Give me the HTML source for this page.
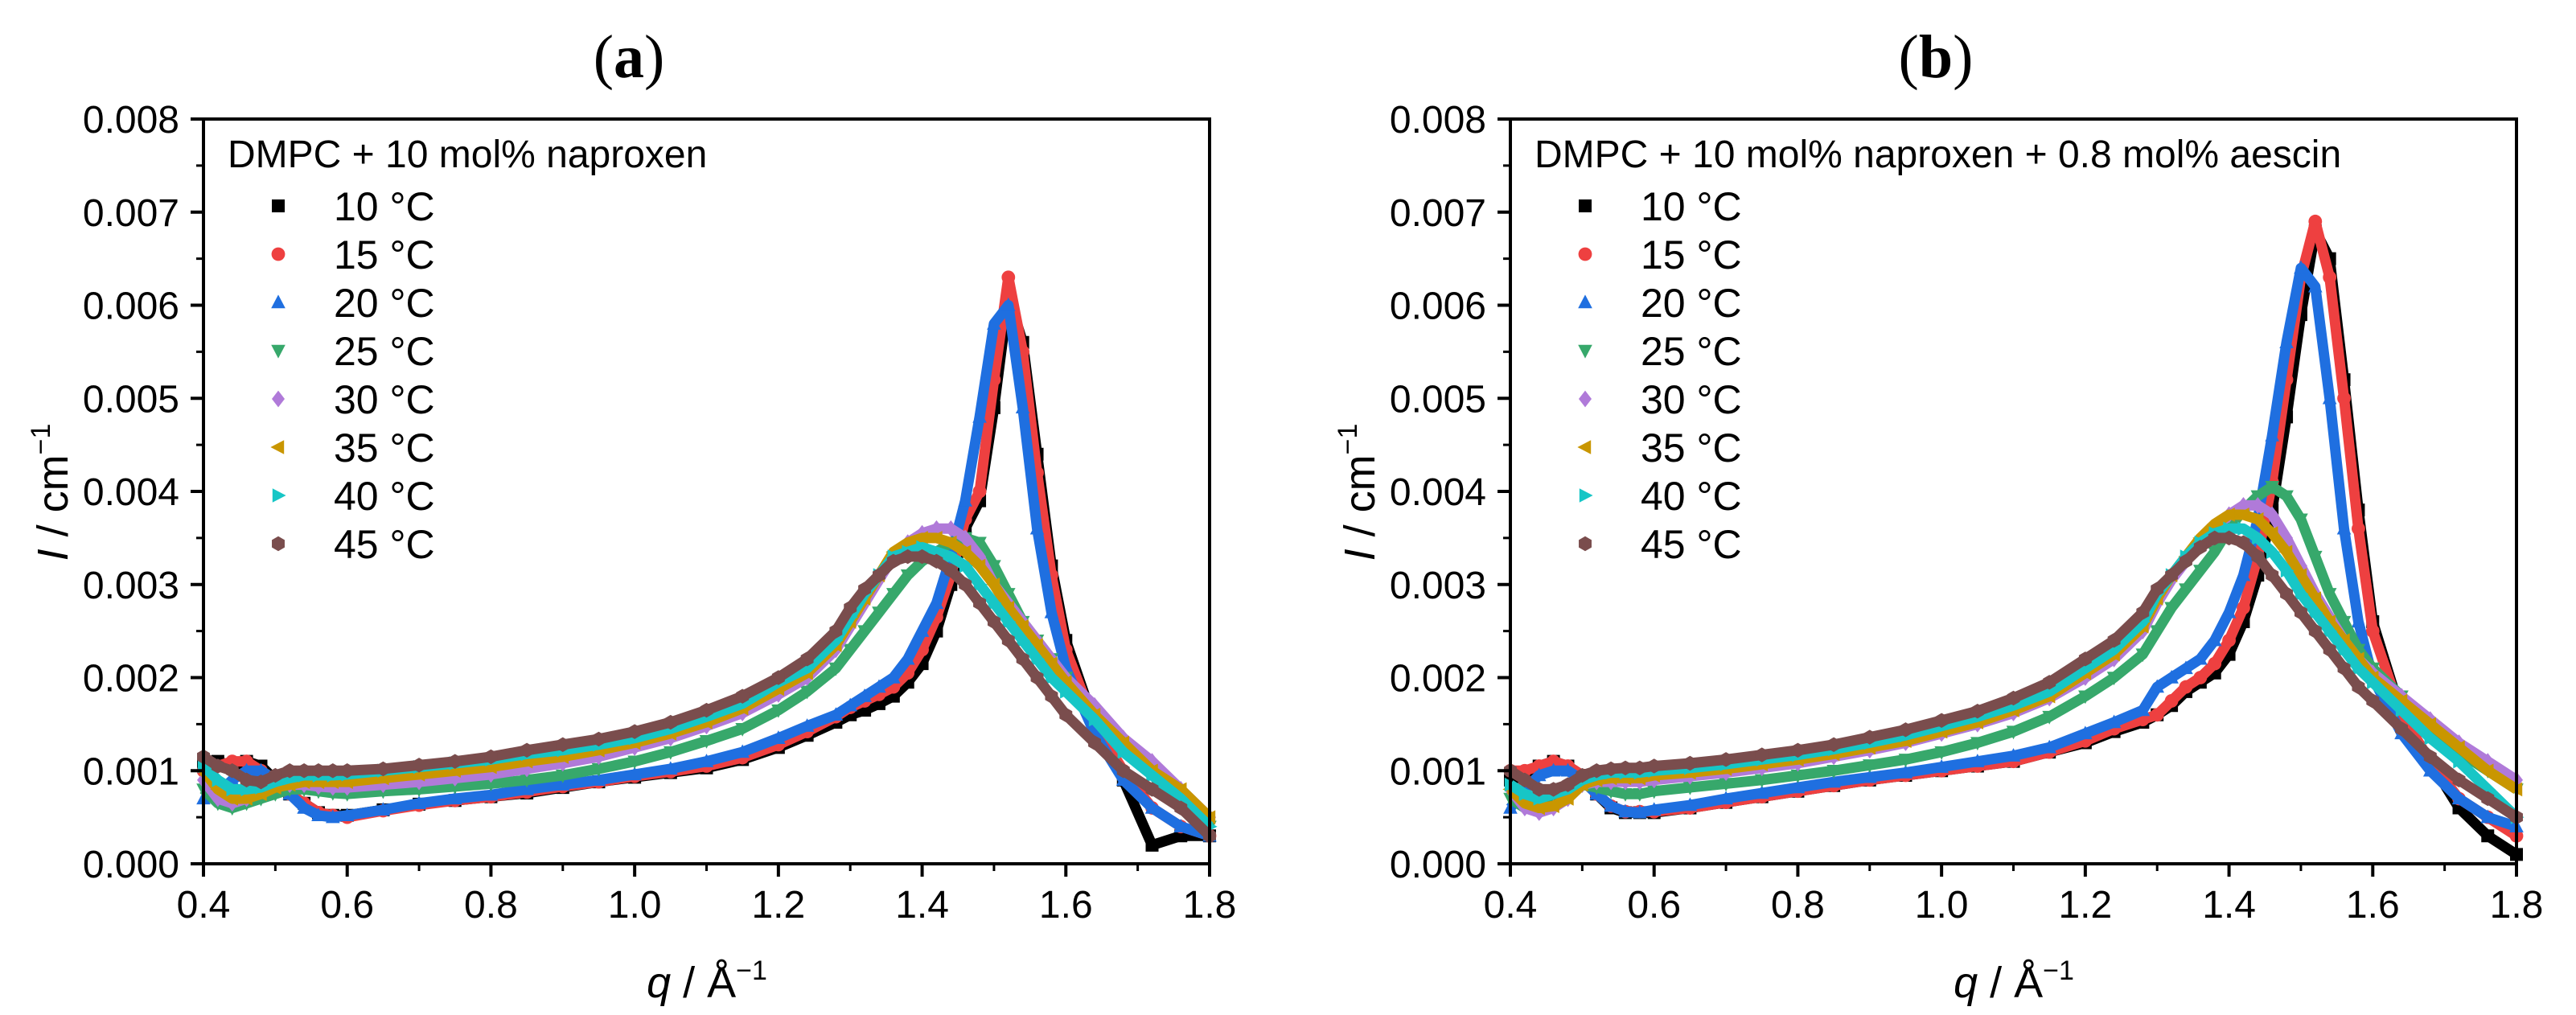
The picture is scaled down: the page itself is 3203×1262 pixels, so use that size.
<!DOCTYPE html>
<html><head><meta charset="utf-8"><style>
html,body{margin:0;padding:0;background:#fff}
svg{display:block}
text{font-family:"Liberation Sans",sans-serif;fill:#000}
</style></head><body>
<svg id="fig" width="3203" height="1262" viewBox="0 0 3203 1262" xmlns="http://www.w3.org/2000/svg"></svg>
<script>
const qValues=[0.40,0.42,0.44,0.46,0.48,0.50,0.52,0.54,0.56,0.58,0.60,0.65,0.70,0.75,0.80,0.85,0.90,0.95,1.00,1.05,1.10,1.15,1.20,1.24,1.28,1.30,1.32,1.34,1.36,1.38,1.40,1.42,1.44,1.46,1.48,1.50,1.52,1.54,1.56,1.58,1.60,1.64,1.68,1.72,1.76,1.80];
const seriesLabels=["10 °C","15 °C","20 °C","25 °C","30 °C","35 °C","40 °C","45 °C"];
const xTicks=[0.4,0.6,0.8,1.0,1.2,1.4,1.6,1.8];
const xTickLabels=["0.4","0.6","0.8","1.0","1.2","1.4","1.6","1.8"];
const yTicks=[0,0.001,0.002,0.003,0.004,0.005,0.006,0.007,0.008];
const yTickLabels=["0.000","0.001","0.002","0.003","0.004","0.005","0.006","0.007","0.008"];
// panel a (units 1e-3 cm^-1)
const a10=[1.05,1.1,1.05,1.1,1.05,0.9,0.75,0.65,0.55,0.52,0.52,0.58,0.64,0.68,0.72,0.76,0.82,0.88,0.93,0.98,1.03,1.12,1.25,1.38,1.52,1.6,1.65,1.72,1.8,1.95,2.15,2.5,3.0,3.6,3.9,4.9,6.1,5.6,4.4,3.2,2.4,1.5,0.9,0.2,0.3,0.3];
const a15=[1.0,1.05,1.1,1.1,1.0,0.9,0.75,0.65,0.55,0.52,0.5,0.57,0.63,0.68,0.72,0.77,0.83,0.88,0.94,0.99,1.05,1.14,1.28,1.42,1.58,1.68,1.75,1.82,1.9,2.05,2.3,2.65,3.1,3.7,4.0,5.2,6.3,5.5,4.2,3.1,2.3,1.5,1.0,0.6,0.4,0.3];
const a20=[0.7,0.75,0.9,1.0,1.0,0.9,0.75,0.6,0.52,0.5,0.52,0.58,0.65,0.7,0.74,0.8,0.85,0.9,0.96,1.02,1.1,1.2,1.35,1.48,1.6,1.7,1.8,1.9,2.0,2.2,2.5,2.8,3.3,3.9,4.8,5.8,6.0,4.9,3.6,2.7,2.1,1.4,0.9,0.6,0.4,0.3];
const a25=[0.8,0.65,0.6,0.65,0.7,0.75,0.8,0.8,0.78,0.76,0.75,0.78,0.8,0.83,0.86,0.9,0.95,1.02,1.1,1.2,1.32,1.45,1.65,1.85,2.1,2.3,2.5,2.7,2.9,3.1,3.25,3.35,3.45,3.5,3.45,3.2,2.9,2.6,2.4,2.2,2.0,1.6,1.3,1.0,0.7,0.4];
const a30=[0.9,0.7,0.65,0.7,0.8,0.85,0.85,0.85,0.83,0.82,0.82,0.85,0.88,0.92,0.96,1.02,1.08,1.15,1.25,1.35,1.48,1.62,1.82,2.0,2.3,2.55,2.8,3.05,3.3,3.45,3.55,3.6,3.6,3.5,3.3,3.0,2.8,2.6,2.4,2.2,2.0,1.7,1.35,1.1,0.8,0.5];
const a35=[1.0,0.8,0.7,0.7,0.75,0.82,0.85,0.88,0.88,0.88,0.88,0.92,0.96,1.0,1.04,1.1,1.15,1.22,1.3,1.4,1.52,1.67,1.88,2.05,2.35,2.6,2.85,3.1,3.35,3.45,3.5,3.5,3.45,3.35,3.2,3.0,2.75,2.55,2.35,2.15,1.95,1.6,1.3,1.0,0.8,0.5];
const a40=[1.05,0.9,0.8,0.8,0.82,0.88,0.92,0.95,0.95,0.95,0.96,1.0,1.04,1.08,1.12,1.18,1.22,1.28,1.35,1.45,1.58,1.72,1.95,2.1,2.4,2.65,2.9,3.1,3.3,3.35,3.4,3.35,3.3,3.2,3.0,2.8,2.6,2.4,2.2,2.0,1.85,1.55,1.2,0.95,0.7,0.4];
const a45=[1.15,1.05,1.0,0.9,0.88,0.95,1.0,1.0,1.0,1.0,1.0,1.02,1.06,1.1,1.15,1.22,1.28,1.34,1.42,1.52,1.65,1.8,2.0,2.2,2.5,2.75,2.95,3.1,3.25,3.3,3.3,3.25,3.15,3.0,2.8,2.6,2.4,2.2,2.0,1.8,1.6,1.3,1.0,0.8,0.6,0.3];
// panel b
const b10=[0.9,0.95,1.05,1.1,1.05,0.95,0.75,0.6,0.55,0.55,0.55,0.6,0.66,0.72,0.78,0.84,0.9,0.95,1.0,1.05,1.1,1.2,1.3,1.42,1.52,1.6,1.7,1.85,1.95,2.05,2.25,2.6,3.1,3.8,4.8,5.9,6.8,6.5,5.2,3.8,2.6,1.6,1.1,0.6,0.3,0.1];
const b15=[1.0,1.0,1.05,1.1,1.05,0.95,0.75,0.62,0.56,0.56,0.56,0.6,0.66,0.72,0.78,0.84,0.9,0.95,1.0,1.05,1.1,1.2,1.32,1.45,1.55,1.6,1.75,1.9,2.0,2.15,2.4,2.75,3.3,4.1,5.2,6.3,6.9,6.3,5.0,3.6,2.5,1.6,1.1,0.7,0.5,0.3];
const b20=[0.6,0.8,0.95,1.0,1.0,0.9,0.75,0.62,0.56,0.55,0.58,0.63,0.7,0.76,0.82,0.88,0.93,0.98,1.04,1.1,1.16,1.25,1.4,1.52,1.65,1.9,2.0,2.1,2.2,2.4,2.7,3.1,3.7,4.6,5.6,6.4,6.2,5.0,3.6,2.6,2.0,1.4,1.0,0.7,0.5,0.4];
const b25=[0.7,0.6,0.6,0.7,0.8,0.85,0.82,0.78,0.75,0.75,0.78,0.82,0.86,0.9,0.95,1.0,1.06,1.12,1.2,1.3,1.42,1.58,1.8,2.0,2.25,2.5,2.75,2.95,3.15,3.35,3.6,3.8,3.95,4.05,3.95,3.7,3.3,2.9,2.6,2.3,2.1,1.8,1.5,1.2,1.0,0.8];
const b30=[0.8,0.6,0.55,0.6,0.7,0.85,0.88,0.88,0.88,0.88,0.9,0.94,0.98,1.03,1.08,1.15,1.22,1.3,1.4,1.5,1.62,1.78,2.0,2.2,2.5,2.8,3.05,3.25,3.45,3.6,3.75,3.85,3.85,3.75,3.5,3.2,2.9,2.65,2.4,2.2,2.05,1.8,1.55,1.3,1.1,0.9];
const b35=[0.8,0.65,0.6,0.62,0.7,0.85,0.9,0.92,0.92,0.92,0.95,0.98,1.02,1.07,1.12,1.18,1.25,1.32,1.42,1.52,1.65,1.8,2.05,2.25,2.55,2.85,3.1,3.3,3.5,3.65,3.75,3.75,3.7,3.55,3.35,3.1,2.85,2.6,2.4,2.2,2.0,1.75,1.5,1.25,1.0,0.8];
const b40=[0.85,0.75,0.7,0.75,0.8,0.9,0.95,0.98,0.98,0.98,1.0,1.03,1.07,1.12,1.17,1.23,1.3,1.38,1.48,1.58,1.7,1.85,2.1,2.3,2.6,2.9,3.1,3.3,3.45,3.55,3.6,3.6,3.5,3.35,3.15,2.9,2.7,2.5,2.3,2.1,1.95,1.65,1.35,1.1,0.8,0.5];
const b45=[1.0,0.9,0.8,0.8,0.85,0.95,1.0,1.02,1.03,1.03,1.05,1.08,1.12,1.17,1.22,1.28,1.36,1.44,1.54,1.64,1.78,1.95,2.2,2.4,2.7,2.95,3.1,3.25,3.4,3.5,3.5,3.45,3.3,3.1,2.9,2.7,2.5,2.3,2.1,1.9,1.75,1.45,1.15,0.9,0.7,0.5];

const colors=["#000000","#ee4040","#1f6fe0","#37a86b","#b07ad9","#c99600","#17c6c6","#7a4d4d"];
const shapes=["square","circle","up","down","diamond","left","right","hex"];
const NS="http://www.w3.org/2000/svg";
const svg=document.getElementById("fig");
function mk(tag,attrs,parent){const e=document.createElementNS(NS,tag);for(const k in attrs)e.setAttribute(k,attrs[k]);(parent||svg).appendChild(e);return e;}
function marker(shape,x,y,s,color,parent){
  let d;
  if(shape==="square")d=`M${x-s},${y-s}h${2*s}v${2*s}h${-2*s}z`;
  else if(shape==="circle"){return mk("circle",{cx:x,cy:y,r:s*1.05,fill:color},parent);}
  else if(shape==="up")d=`M${x},${y-s*1.2}L${x+s*1.1},${y+s*0.9}L${x-s*1.1},${y+s*0.9}z`;
  else if(shape==="down")d=`M${x},${y+s*1.2}L${x+s*1.1},${y-s*0.9}L${x-s*1.1},${y-s*0.9}z`;
  else if(shape==="diamond")d=`M${x},${y-s*1.3}L${x+s},${y}L${x},${y+s*1.3}L${x-s},${y}z`;
  else if(shape==="left")d=`M${x-s*1.2},${y}L${x+s*0.9},${y-s*1.1}L${x+s*0.9},${y+s*1.1}z`;
  else if(shape==="right")d=`M${x+s*1.2},${y}L${x-s*0.9},${y-s*1.1}L${x-s*0.9},${y+s*1.1}z`;
  else {d="";for(let i=0;i<6;i++){const a=Math.PI/6+i*Math.PI/3;d+=(i?"L":"M")+(x+s*1.15*Math.cos(a))+","+(y+s*1.15*Math.sin(a));}d+="z";}
  return mk("path",{d:d,fill:color},parent);
}

function panel(ox,title,legendTitle,data,id){
  const L=ox+253,R=ox+1504,T=148,B=1074;
  const xs=q=>L+(q-0.4)/1.4*(R-L);
  const ys=v=>B-v/0.008*(B-T);
  const g=mk("g",{});
  
  
  const t=mk("text",{x:ox+782,y:96,"text-anchor":"middle",style:'font-family:"Liberation Serif",serif;font-size:76px'},g);
  
  
  t.innerHTML='(<tspan font-weight="bold">'+title+'</tspan>)';
  const sg=mk("g",{},g);
  
  
  data.forEach((vals,si)=>{
    const pts=vals.map((v,i)=>xs(qValues[i])+","+ys(v/1000)).join(" ");
    const pl=mk("polyline",{points:pts,fill:"none",stroke:colors[si],"stroke-width":"13","stroke-linejoin":"round"},sg);
    
    
    vals.forEach((v,i)=>{
      const m=marker(shapes[si],xs(qValues[i]),ys(v/1000),8,colors[si],sg);
      
      
    });
  });
  const fr=mk("rect",{x:L,y:T,width:R-L,height:B-T,fill:"none",stroke:"#000","stroke-width":"4"},g);
  
  
  xTicks.forEach((q,i)=>{
    const x=xs(q);
    const tk=mk("line",{x1:x,x2:x,y1:B,y2:B+16,stroke:"#000","stroke-width":"4"},g);
    
    
    if(i<xTicks.length-1){const xm=xs(q+0.1);const mn=mk("line",{x1:xm,x2:xm,y1:B,y2:B+9,stroke:"#000","stroke-width":"3"},g);
      
      }
    const lb=mk("text",{x:x,y:1141,"text-anchor":"middle","font-size":"48"},g);
    
    
    lb.textContent=xTickLabels[i];
  });
  yTicks.forEach((v,i)=>{
    const y=ys(v);
    const tk=mk("line",{x1:L-16,x2:L,y1:y,y2:y,stroke:"#000","stroke-width":"4"},g);
    
    
    if(i<yTicks.length-1){const ym=ys(v+0.0005);const mn=mk("line",{x1:L-9,x2:L,y1:ym,y2:ym,stroke:"#000","stroke-width":"3"},g);
      
      }
    const lb=mk("text",{x:L-30,y:y+17,"text-anchor":"end","font-size":"48"},g);
    
    
    lb.textContent=yTickLabels[i];
  });
  const xt=mk("text",{x:ox+879,y:1240,"text-anchor":"middle","font-size":"54"},g);
  
  
  xt.innerHTML='<tspan font-style="italic">q</tspan> / Å<tspan font-size="34" dy="-22">−1</tspan>';
  const yt=mk("text",{x:0,y:0,"text-anchor":"middle","font-size":"54",transform:`translate(${ox+84},612) rotate(-90)`},g);
  
  
  yt.innerHTML='<tspan font-style="italic">I</tspan> / cm<tspan font-size="34" dy="-22">−1</tspan>';
  const lg=mk("g",{},g);
  
  
  const lt=mk("text",{x:L+30,y:208,"font-size":"48"},lg);
  
  
  lt.textContent=legendTitle;
  seriesLabels.forEach((lab,i)=>{
    const y=256+i*60;
    const m=marker(shapes[i],L+93,y,8,colors[i],lg);
    
    
    const tx=mk("text",{x:L+162,y:y+18,"font-size":"50"},lg);
    
    
    tx.textContent=lab;
  });
}
panel(0,"a","DMPC + 10 mol% naproxen",[a10,a15,a20,a25,a30,a35,a40,a45],"a");
panel(1625,"b","DMPC + 10 mol% naproxen + 0.8 mol% aescin",[b10,b15,b20,b25,b30,b35,b40,b45],"b");
</script>
</body></html>
